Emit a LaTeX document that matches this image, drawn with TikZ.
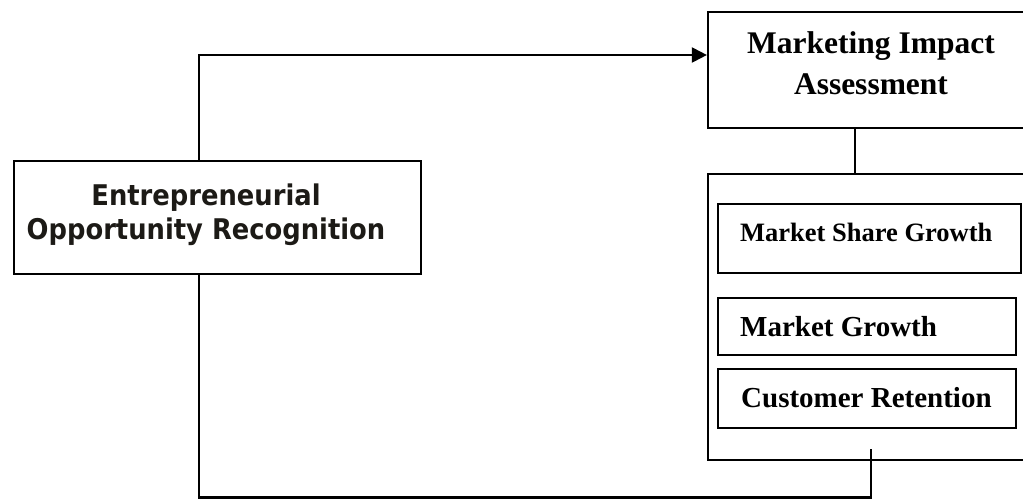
\documentclass[tikz,border=0pt]{standalone}
\usepackage{fontspec}
\setmainfont{Liberation Serif}
\newfontfamily\dejavu[FakeStretch=0.905]{DejaVu Sans}
\usetikzlibrary{arrows.meta}
\definecolor{darkink}{HTML}{1C1A16}
\begin{document}
\begin{tikzpicture}[x=1pt,y=-1pt,
  box/.style={draw=black, line width=2.2pt, inner sep=0pt},
  subbox/.style={draw=black, line width=1.7pt, inner sep=0pt},
  conn/.style={draw=black, line width=2.1pt},
  arrowconn/.style={conn, -{Triangle[length=15pt,width=15pt]}},
  seriflabel/.style={font=\bfseries, inner sep=0pt, align=center},
  sanslabel/.style={font=\dejavu\bfseries\fontsize{28.5}{34}\selectfont, inner sep=0pt, align=center, text=darkink}
]
\useasboundingbox (0,0) rectangle (1023,499);

% boxes
\node[box, minimum width=407pt, minimum height=113pt] (eor) at (217.5,217.5) {};
\node[box, minimum width=326pt, minimum height=116pt] (mia) at (871,70) {};
\node[box, minimum width=326pt, minimum height=286pt] (outer) at (871,317) {};
\node[subbox, minimum width=303pt, minimum height=69pt] (msg) at (869.5,238.5) {};
\node[subbox, minimum width=298pt, minimum height=57pt] (mg) at (867,326.5) {};
\node[subbox, minimum width=298pt, minimum height=59pt] (cr) at (867,398.5) {};

% labels (base anchor = baseline of the last line)
\node[sanslabel, anchor=base] (eorlabel) at (206,239) {Entrepreneurial\\Opportunity Recognition};
\node[seriflabel, font=\bfseries\fontsize{31.5}{41}\selectfont, anchor=base] (mialabel) at (871,94) {Marketing Impact\\Assessment};
\node[seriflabel, font=\bfseries\fontsize{26.5}{32}\selectfont, anchor=base west] (msglabel) at (740,241) {Market Share Growth};
\node[seriflabel, font=\bfseries\fontsize{29}{35}\selectfont, anchor=base west] (mglabel) at (740,336) {Market Growth};
\node[seriflabel, font=\bfseries\fontsize{29}{35}\selectfont, anchor=base west] (crlabel) at (741,407) {Customer Retention};

% connector coordinates
\coordinate (xleft) at (199,55);
\coordinate (xmid) at (855,0);
\coordinate (xbot) at (871,449);
\coordinate (bend) at (871,497.5);

\draw[arrowconn] (eor.north -| xleft) |- (xleft -| mia.west);
\draw[conn] (mia.south -| xmid) -- (outer.north -| xmid);
\draw[conn] (eor.south -| xleft) |- (bend) -- (xbot);
\end{tikzpicture}
\end{document}
